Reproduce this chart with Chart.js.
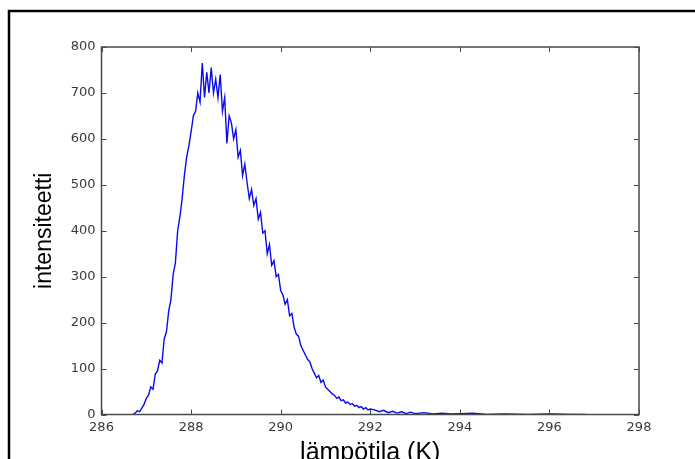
<!DOCTYPE html>
<html>
<head>
<meta charset="utf-8">
<script src="https://cdn.jsdelivr.net/npm/chart.js@4.4.1/dist/chart.umd.min.js"></script>
<style>
  html, body { margin: 0; padding: 0; background: #fff; }
  canvas { display: block; }
</style>
</head>
<body>
<canvas id="spectrum" width="695" height="459"></canvas>
<script>
// lämpötila (K) -> intensiteetti, luettu kuvasta silmämääräisesti
var temps = [
  286.70, 286.75, 286.80, 286.85, 286.90, 286.95, 287.00, 287.05, 287.10, 287.15,
  287.20, 287.25, 287.30, 287.35, 287.40, 287.45, 287.50, 287.55, 287.60, 287.65,
  287.70, 287.75, 287.80, 287.85, 287.90, 287.95, 288.00, 288.05, 288.10, 288.15,
  288.20, 288.25, 288.30, 288.35, 288.40, 288.45, 288.50, 288.55, 288.60, 288.65,
  288.70, 288.75, 288.80, 288.85, 288.90, 288.95, 289.00, 289.05, 289.10, 289.15,
  289.20, 289.25, 289.30, 289.35, 289.40, 289.45, 289.50, 289.55, 289.60, 289.65,
  289.70, 289.75, 289.80, 289.85, 289.90, 289.95, 290.00, 290.05, 290.10, 290.15,
  290.20, 290.25, 290.30, 290.35, 290.40, 290.45, 290.50, 290.55, 290.60, 290.65,
  290.70, 290.75, 290.80, 290.85, 290.90, 290.95, 291.00, 291.05, 291.10, 291.15,
  291.20, 291.25, 291.30, 291.35, 291.40, 291.45, 291.50, 291.55, 291.60, 291.65,
  291.70, 291.75, 291.80, 291.85, 291.90, 291.95, 292.00, 292.10, 292.20, 292.30,
  292.40, 292.50, 292.60, 292.70, 292.80, 292.90, 293.00, 293.20, 293.40, 293.60,
  293.80, 294.00, 294.30, 294.60, 295.00, 295.50, 296.00, 296.50, 296.80
];
var counts = [
  0, 3, 8, 6, 14, 22, 35, 42, 60, 55,
  88, 95, 118, 112, 165, 180, 225, 250, 305, 330,
  400, 430, 470, 520, 560, 585, 615, 650, 660, 700,
  680, 765, 690, 745, 700, 755, 700, 730, 690, 740,
  660, 690, 590, 650, 635, 600, 620, 560, 575, 520,
  545, 505, 470, 490, 455, 470, 425, 440, 395, 400,
  350, 370, 325, 335, 300, 305, 270, 260, 240, 250,
  215, 220, 190, 175, 170, 150, 140, 130, 120, 115,
  100, 90, 80, 85, 70, 75, 60, 55, 50, 45,
  42, 35, 38, 30, 32, 25, 27, 22, 24, 18,
  20, 15, 17, 12, 15, 10, 12, 10, 6, 9,
  4, 7, 3, 6, 2, 5, 2, 4, 1, 3,
  1, 2, 3, 0, 1, 0, 1, 0, 0
];
var xTicks = [286, 288, 290, 292, 294, 296, 298];
var yTicks = [0, 100, 200, 300, 400, 500, 600, 700, 800];

var points = temps.map(function (t, i) { return { x: t, y: counts[i] }; });

var tickFont = { family: '"DejaVu Sans", Arial, sans-serif', size: 13 };
var titleFamily = '"Liberation Sans", Arial, sans-serif';

// MATLAB-tyylinen kehys: sisäänpäin osoittavat tikit ja ylä/oikea reuna
var frame = {
  id: 'frame',
  beforeDraw: function (chart) {
    var c = chart.ctx;
    c.save();
    c.fillStyle = '#fff';
    c.fillRect(0, 0, chart.width, chart.height);
    c.restore();
  },
  afterDraw: function (chart) {
    var c = chart.ctx;
    var a = chart.chartArea;
    var xs = chart.scales.x;
    var ys = chart.scales.y;
    var len = 5;
    c.save();
    c.strokeStyle = '#4a4a4a';
    c.lineWidth = 1.5;
    c.strokeRect(a.left, a.top, a.right - a.left, a.bottom - a.top);
    c.lineWidth = 1;
    c.beginPath();
    xTicks.forEach(function (v) {
      var px = Math.round(xs.getPixelForValue(v)) + 0.5;
      c.moveTo(px, a.bottom); c.lineTo(px, a.bottom - len);
      c.moveTo(px, a.top); c.lineTo(px, a.top + len);
    });
    yTicks.forEach(function (v) {
      var py = Math.round(ys.getPixelForValue(v)) + 0.5;
      c.moveTo(a.left, py); c.lineTo(a.left + len, py);
      c.moveTo(a.right, py); c.lineTo(a.right - len, py);
    });
    c.stroke();
    // ulkokehys
    c.strokeStyle = '#000';
    c.lineWidth = 2.5;
    c.beginPath();
    c.moveTo(9, chart.height); c.lineTo(9, 11); c.lineTo(chart.width, 11);
    c.stroke();
    c.restore();
  }
};

new Chart(document.getElementById('spectrum').getContext('2d'), {
  type: 'line',
  data: {
    datasets: [{
      data: points,
      borderColor: '#0a0af0',
      borderWidth: 1.4,
      pointRadius: 0,
      tension: 0,
      fill: false
    }]
  },
  options: {
    responsive: false,
    animation: false,
    devicePixelRatio: 1,
    layout: { padding: { left: 0, right: 56, top: 47, bottom: 0 } },
    plugins: { legend: { display: false }, tooltip: { enabled: false } },
    scales: {
      x: {
        type: 'linear',
        min: 286,
        max: 298,
        afterBuildTicks: function (s) { s.ticks = xTicks.map(function (v) { return { value: v }; }); },
        afterFit: function (s) { s.height = 44.5; },
        ticks: { color: '#3a3a3a', font: tickFont, padding: 5, maxRotation: 0 },
        grid: { display: false, drawTicks: false },
        border: { display: false },
        title: {
          display: true,
          text: 'lämpötila (K)',
          color: '#000',
          font: { family: titleFamily, size: 25, lineHeight: 1 },
          padding: { top: 0, bottom: -7 }
        }
      },
      y: {
        min: 0,
        max: 800,
        afterBuildTicks: function (s) { s.ticks = yTicks.map(function (v) { return { value: v }; }); },
        afterFit: function (s) { s.width = 101.5; },
        ticks: { color: '#3a3a3a', font: tickFont, padding: 6 },
        grid: { display: false, drawTicks: false },
        border: { display: false },
        title: {
          display: true,
          text: 'intensiteetti',
          color: '#000',
          font: { family: titleFamily, size: 23, lineHeight: 1 },
          padding: { top: 33, bottom: 0 }
        }
      }
    }
  },
  plugins: [frame]
});
</script>
</body>
</html>
